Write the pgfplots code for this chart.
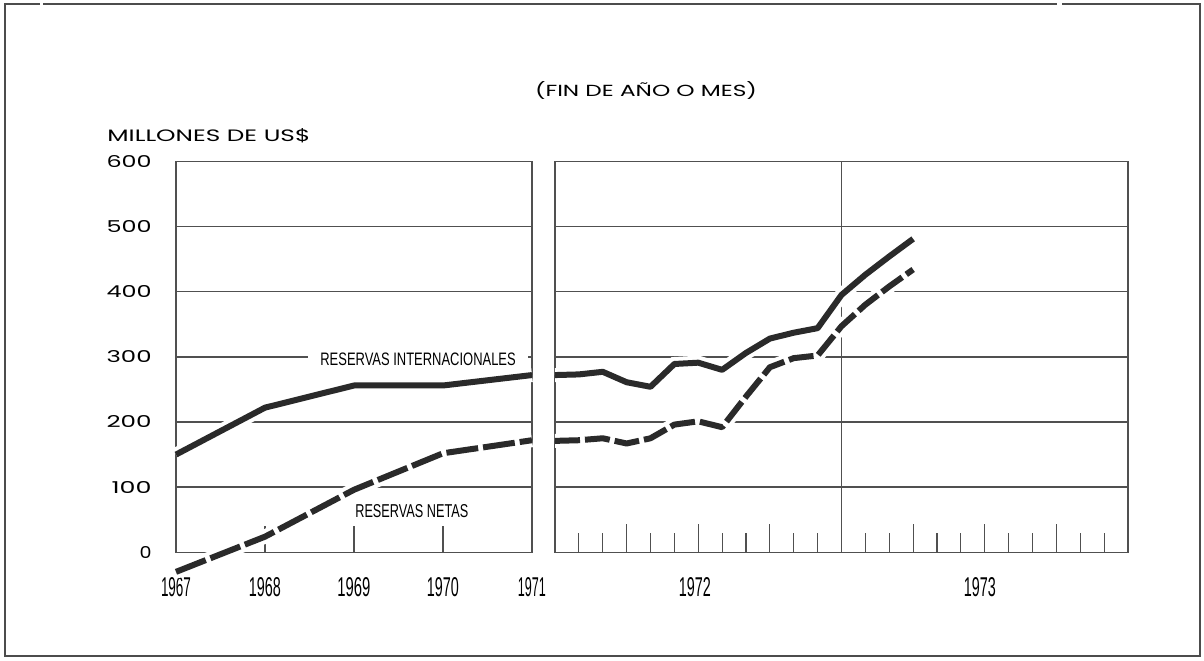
\documentclass[border=0pt]{standalone}
\usepackage{pgfplots}
\pgfplotsset{compat=1.18}
\usepackage{pgfplotstable}
\usepackage{fontspec}
\setmainfont{Liberation Sans}
\newfontfamily\geo{Poppins}
\newfontfamily\nar{Liberation Sans}
\definecolor{ink}{HTML}{2A2A2A}
\definecolor{gridc}{HTML}{505050}
\newcommand\fit[3]{\resizebox{#1}{#2}{#3}}
\newcommand\yt[2]{\resizebox{#1}{6pt}{\geo #2}}
\newcommand\yr[2]{\resizebox{#1}{9.5pt}{\nar #2}}

\pgfplotstableread{
x intl neta
1967 150 -30
1968 222 24
1969 256 96
1970 256 152
1971 272 172
}\leftdata

\pgfplotstableread{
m intl neta
0 272 171
1 273 172
2 277 175
3 261 167
4 254 175
5 289 196
6 291 201
7 280 192
8 306 239
9 328 284
10 337 298
11 344 302
12 395 347
13 426 380
14 454 408
15 481 434
}\rightdata

\pgfplotsset{panel/.style={
  scale only axis, height=195.5pt, anchor=south west,
  ymin=0, ymax=600, ytick={0,100,...,600},
  ymajorgrids, grid style={gridc, line width=0.7pt},
  axis line style={gridc, line width=0.7pt},
  tick align=inside, xtick pos=left,
  tick style={gridc, line width=0.6pt},
  minor tick style={gridc, line width=0.6pt},
  ytick style={draw=none},
  clip=false,
}}

\begin{document}
\begin{tikzpicture}
\useasboundingbox (0,0) rectangle (602pt,-330pt);
% outer frame (scan border)
\draw[line width=1pt, black!70] (21.5pt,-2pt) -- (528.5pt,-2pt);
\draw[line width=1pt, black!70] (531pt,-2pt) -- (600pt,-2pt) -- (600pt,-328pt) -- (2.5pt,-328pt) -- (2.5pt,-2pt) -- (20pt,-2pt);

\node[anchor=base, inner sep=0pt] at (323pt,-48.35pt) {\fit{111pt}{7.5pt}{\geo (FIN DE AÑO O MES)}};
\node[anchor=base west, inner sep=0pt] at (53.5pt,-70.8pt) {\fit{101.5pt}{6.5pt}{\geo MILLONES DE US\$}};

\begin{axis}[panel, at={(88pt,-276.15pt)}, width=178pt,
  xmin=1967, xmax=1971, xtick={1967,1968,1969,1970,1971},
  xticklabels={\yr{15pt}{1967},\yr{16pt}{1968},\yr{16.5pt}{1969},\yr{16pt}{1970},\yr{14pt}{1971}},
  major tick length=13pt,
  yticklabels={\yt{6pt}{0},\yt{20pt}{100},\yt{22.5pt}{200},\yt{22.5pt}{300},\yt{22.5pt}{400},\yt{22.5pt}{500},\yt{22.5pt}{600}},
  yticklabel style={anchor=east, inner sep=0pt, xshift=-12pt},
  xticklabel style={anchor=center, inner sep=0pt, yshift=-17.35pt},
]
\addplot[white, line width=7pt, mark=none] table[x=x, y=intl]{\leftdata};
\addplot[white, line width=7pt, mark=none] table[x=x, y=neta]{\leftdata};
\addplot[ink, line width=3pt, line join=round, mark=none] table[x=x, y=intl]{\leftdata};
\addplot[ink, line width=3pt, line join=round, mark=none, dash pattern=on 16pt off 2.5pt] table[x=x, y=neta]{\leftdata};
\node[fill=white, inner xsep=6pt, inner ysep=3pt] at (axis cs:1969.72,295.8) {\fit{97.7pt}{6.3pt}{\nar RESERVAS INTERNACIONALES}};
\node[inner sep=0pt] at (axis cs:1969.65,62.7) {\fit{56.5pt}{6.5pt}{\nar RESERVAS NETAS}};
\end{axis}

\begin{axis}[panel, at={(277.5pt,-276.15pt)}, width=286.5pt,
  xmin=0, xmax=24, xtick={3,6,9,15,18,21}, xticklabels={},
  minor xtick={1,2,4,5,7,8,10,11,13,14,16,17,19,20,22,23},
  major tick length=14pt, minor tick length=9.5pt,
  yticklabels={},
  extra x ticks={12}, extra x tick labels={},
  extra x tick style={grid=major, major tick length=0pt},
]
\addplot[white, line width=7pt, mark=none] table[x=m, y=intl]{\rightdata};
\addplot[white, line width=7pt, mark=none] table[x=m, y=neta]{\rightdata};
\addplot[ink, line width=3pt, line join=round, mark=none] table[x=m, y=intl]{\rightdata};
\addplot[ink, line width=3pt, line join=round, mark=none, dash pattern=on 12.5pt off 2.5pt] table[x=m, y=neta]{\rightdata};
\node[inner sep=0pt] at (axis cs:5.86,0) [yshift=-17.35pt] {\yr{16pt}{1972}};
\node[inner sep=0pt] at (axis cs:17.8,0) [yshift=-17.35pt] {\yr{16pt}{1973}};
\end{axis}
\end{tikzpicture}
\end{document}
